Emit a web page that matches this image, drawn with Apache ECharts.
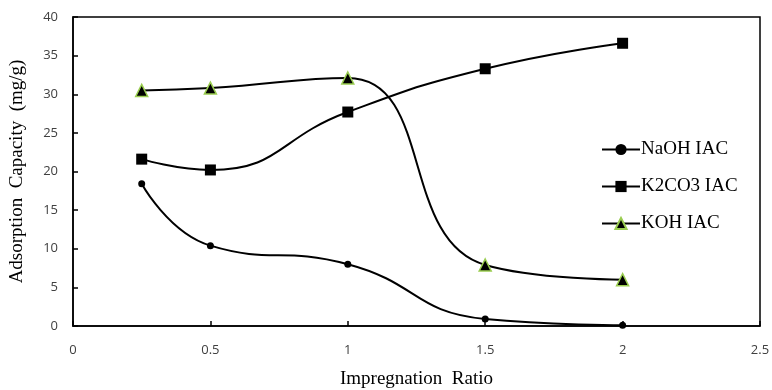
<!DOCTYPE html>
<html><head><meta charset="utf-8">
<script src="https://cdn.jsdelivr.net/npm/echarts@6/dist/echarts.min.js"></script>
<style>html,body{margin:0;padding:0;background:#fff}#c{width:772px;height:390px}</style>
</head><body><div id="c"></div>
<script>
var xValues = [0.25, 0.5, 1, 1.5, 2];
var naohValues = [18.4, 10.4, 8.0, 0.9, 0.1];
var k2co3Values = [21.6, 20.2, 27.7, 33.3, 36.6];
var kohValues = [30.5, 30.8, 32.1, 7.9, 6.0];
var seriesNames = ['NaOH IAC', 'K2CO3 IAC', 'KOH IAC'];

function pairs(v){ return xValues.map(function(x,i){return [x, v[i]];}); }

var chart = echarts.init(document.getElementById('c'));
var lineStyle = {color:'#000', width:2};
chart.setOption({
  animation:false,
  backgroundColor:'#fff',
  grid:{left:73, right:12, top:17, bottom:64, show:true, borderColor:'#000', borderWidth:1.5,
        backgroundColor:'transparent', containLabel:false, outerBoundsMode:'none'},
  legend:{
    orient:'vertical', left:596, top:135, itemGap:18, itemWidth:38, itemHeight:14,
    textStyle:{fontFamily:'Liberation Serif', fontSize:19, color:'#000', padding:[0,0,0,-4]},
    data:seriesNames
  },
  xAxis:{
    type:'value', min:0, max:2.5, interval:0.5,
    name:'Impregnation  Ratio', nameLocation:'middle', nameGap:44,
    nameTextStyle:{fontFamily:'Liberation Serif', fontSize:19, color:'#000'},
    axisLine:{lineStyle:{color:'#000', width:1.5}},
    axisTick:{inside:true, length:5, lineStyle:{color:'#000', width:1.5}},
    axisLabel:{fontFamily:'Open Sans', fontSize:13, color:'#404040', margin:18},
    splitLine:{show:false}
  },
  yAxis:{
    type:'value', min:0, max:40, interval:5,
    name:'Adsorption  Capacity  (mg/g)', nameLocation:'middle', nameGap:46,
    nameTextStyle:{fontFamily:'Liberation Serif', fontSize:19, color:'#000'},
    axisLine:{lineStyle:{color:'#000', width:1.5}},
    axisTick:{inside:true, length:5, lineStyle:{color:'#000', width:1.5}},
    axisLabel:{fontFamily:'Open Sans', fontSize:13, color:'#404040', margin:15},
    splitLine:{show:false}
  },
  series:[
    {name:seriesNames[0], type:'line', smooth:0.5, data:pairs(naohValues),
     symbol:'circle', symbolSize:7, itemStyle:{color:'#000'}, lineStyle:lineStyle},
    {name:seriesNames[1], type:'line', smooth:0.5, data:pairs(k2co3Values),
     symbol:'rect', symbolSize:11, itemStyle:{color:'#000'}, lineStyle:lineStyle},
    {name:seriesNames[2], type:'line', smooth:0.5, data:pairs(kohValues),
     symbol:'triangle', symbolSize:12, itemStyle:{color:'#000', borderColor:'#9ACD50', borderWidth:1.5}, lineStyle:lineStyle}
  ]
});
</script></body></html>
